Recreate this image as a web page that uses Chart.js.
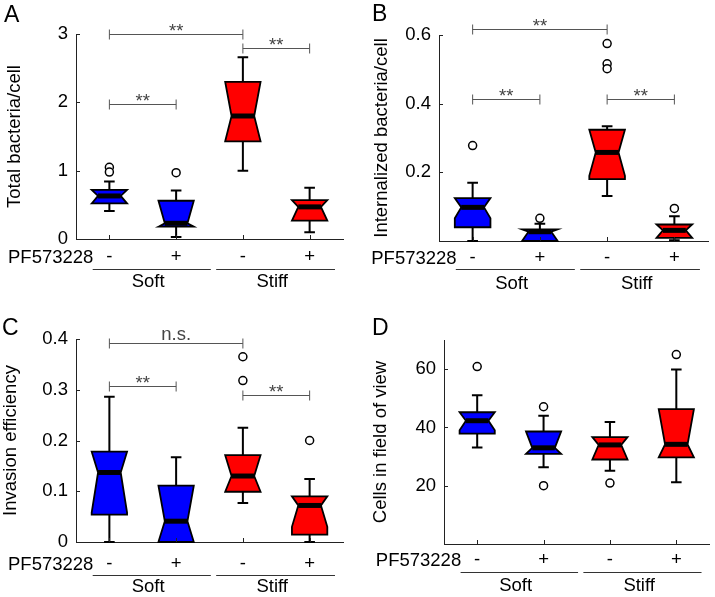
<!DOCTYPE html>
<html>
<head>
<meta charset="utf-8">
<script src="https://cdn.jsdelivr.net/npm/chart.js@4.4.1/dist/chart.umd.min.js"></script>
<style>
  body { margin: 0; background: #fff; }
  #wrap { position: relative; width: 715px; height: 597px; }
  .panel { position: absolute; }
</style>
</head>
<body>
<div id="wrap">
  <div class="panel" style="left:0;top:0"><canvas id="chartA" width="357" height="298"></canvas></div>
  <div class="panel" style="left:357px;top:0"><canvas id="chartB" width="358" height="298"></canvas></div>
  <div class="panel" style="left:0;top:298px"><canvas id="chartC" width="357" height="299"></canvas></div>
  <div class="panel" style="left:357px;top:298px"><canvas id="chartD" width="358" height="299"></canvas></div>
</div>
<script>
// conditions: Soft -, Soft +, Stiff -, Stiff +
var treatment = ['-', '+', '-', '+'];
var groups = ['Soft', 'Stiff'];
var drugName = 'PF573228';

// A - total bacteria per cell
var totalLow = [0.41, 0.03, 1.00, 0.10];
var totalQ1 = [0.52, 0.18, 1.43, 0.27];
var totalMedian = [0.63, 0.23, 1.80, 0.47];
var totalQ3 = [0.72, 0.56, 2.30, 0.57];
var totalHigh = [0.84, 0.71, 2.66, 0.75];
var totalNotchLo = [0.52, 0.18, 1.43, 0.27];
var totalNotchHi = [0.72, 0.56, 2.30, 0.57];
var totalOutliers = [[1.05, 0.98], [0.97], [], []];
var totalTicks = [0, 1, 2, 3];
var totalSig = [[1, 3, 3.0, '**'], [3, 4, 2.8, '**'], [1, 2, 1.97, '**']];

// B - internalized bacteria per cell
var internalLow = [0.0, 0.0, 0.131, 0.002];
var internalQ1 = [0.040, 0.0, 0.18, 0.009];
var internalMedian = [0.098, 0.027, 0.258, 0.031];
var internalQ3 = [0.125, 0.034, 0.324, 0.048];
var internalHigh = [0.17, 0.05, 0.334, 0.072];
var internalNotchLo = [0.066, 0.0, 0.19, 0.009];
var internalNotchHi = [0.125, 0.034, 0.324, 0.048];
var internalOutliers = [[0.278], [0.066], [0.575, 0.516, 0.502], [0.095]];
var internalTicks = [0.2, 0.4, 0.6];
var internalSig = [[1, 3, 0.617, '**'], [1, 2, 0.415, '**'], [3, 4, 0.415, '**']];

// C - invasion efficiency
var invasionLow = [0.0, 0.0, 0.077, 0.0];
var invasionQ1 = [0.054, 0.0, 0.099, 0.0145];
var invasionMedian = [0.137, 0.041, 0.130, 0.072];
var invasionQ3 = [0.178, 0.111, 0.171, 0.090];
var invasionHigh = [0.286, 0.167, 0.225, 0.124];
var invasionNotchLo = [0.058, 0.0, 0.099, 0.03];
var invasionNotchHi = [0.178, 0.111, 0.171, 0.090];
var invasionOutliers = [[], [], [0.365, 0.318], [0.20]];
var invasionTicks = [0, 0.1, 0.2, 0.3, 0.4];
var invasionSig = [[1, 3, 0.393, 'n.s.'], [1, 2, 0.308, '**'], [3, 4, 0.29, '**']];

// D - cells in field of view
var cellsLow = [33.1, 26.3, 25.1, 21.2];
var cellsQ1 = [37.9, 30.9, 29.0, 29.7];
var cellsMedian = [42.3, 33.0, 34.0, 34.2];
var cellsQ3 = [45.2, 38.6, 36.7, 46.3];
var cellsHigh = [51.0, 44.0, 41.9, 59.9];
var cellsNotchLo = [39.0, 30.9, 29.0, 29.7];
var cellsNotchHi = [45.2, 38.6, 36.7, 46.3];
var cellsOutliers = [[60.9], [47.1, 20.0], [20.9], [65.0]];
var cellsTicks = [20, 40, 60];
var cellsSig = [];

var FONT = "'Liberation Sans', Arial, Helvetica, sans-serif";
var FS = 18.5;
var boxColors = ['#0000ff', '#0000ff', '#ff0000', '#ff0000'];
var axisColor = '#222';
Chart.defaults.font.family = FONT;
Chart.defaults.color = '#000';

function makePanel(id, p) {
  var el = document.getElementById(id);
  var W = el.width, H = el.height;
  var g = p.frame; // chart area inside the canvas
  var points = [];
  p.outliers.forEach(function(vals, i) {
    vals.forEach(function(v) { points.push({x: i + 1, y: v}); });
  });

  var boxes = {
    id: 'boxes',
    beforeDatasetsDraw: function(chart) {
      var ctx = chart.ctx, x = chart.scales.x, y = chart.scales.y;
      var unit = x.getPixelForValue(2) - x.getPixelForValue(1);
      var half = unit * 0.265, narrow = half * 0.64, cap = half * 0.3;
      ctx.save();
      for (var i = 0; i < p.median.length; i++) {
        var cx = x.getPixelForValue(i + 1);
        var q1 = y.getPixelForValue(p.q1[i]), q3 = y.getPixelForValue(p.q3[i]);
        var md = y.getPixelForValue(p.median[i]);
        var nLo = y.getPixelForValue(p.notchLo[i]), nHi = y.getPixelForValue(p.notchHi[i]);
        var lo = y.getPixelForValue(p.low[i]), hi = y.getPixelForValue(p.high[i]);

        // whiskers
        ctx.strokeStyle = '#000';
        ctx.lineWidth = 2;
        ctx.beginPath();
        ctx.moveTo(cx, q3); ctx.lineTo(cx, hi);
        ctx.moveTo(cx - cap, hi); ctx.lineTo(cx + cap, hi);
        ctx.moveTo(cx, q1); ctx.lineTo(cx, lo);
        ctx.moveTo(cx - cap, lo); ctx.lineTo(cx + cap, lo);
        ctx.stroke();

        // notched box
        ctx.beginPath();
        ctx.moveTo(cx - half, q1);
        ctx.lineTo(cx - half, nLo);
        ctx.lineTo(cx - narrow, md);
        ctx.lineTo(cx - half, nHi);
        ctx.lineTo(cx - half, q3);
        ctx.lineTo(cx + half, q3);
        ctx.lineTo(cx + half, nHi);
        ctx.lineTo(cx + narrow, md);
        ctx.lineTo(cx + half, nLo);
        ctx.lineTo(cx + half, q1);
        ctx.closePath();
        ctx.fillStyle = boxColors[i];
        ctx.fill();
        ctx.lineWidth = 1.8;
        ctx.lineJoin = 'miter';
        ctx.stroke();

        // median
        ctx.lineWidth = 5;
        ctx.beginPath();
        ctx.moveTo(cx - narrow, md); ctx.lineTo(cx + narrow, md);
        ctx.stroke();
      }
      ctx.restore();
    },
    afterDraw: function(chart) {
      var ctx = chart.ctx, x = chart.scales.x, y = chart.scales.y;
      var area = chart.chartArea;
      ctx.save();

      // inward tick marks
      ctx.strokeStyle = axisColor;
      ctx.lineWidth = 1;
      ctx.beginPath();
      for (var i = 0; i < treatment.length; i++) {
        var tx = Math.round(x.getPixelForValue(i + 1)) + 0.5;
        ctx.moveTo(tx, area.bottom); ctx.lineTo(tx, area.bottom - 4);
      }
      p.ticks.forEach(function(v) {
        var ty = Math.round(y.getPixelForValue(v)) + 0.5;
        ctx.moveTo(area.left, ty); ctx.lineTo(area.left + 4, ty);
      });
      ctx.stroke();

      // significance brackets
      ctx.strokeStyle = '#555';
      ctx.fillStyle = '#444';
      ctx.font = FS + 'px ' + FONT;
      ctx.textAlign = 'center';
      ctx.textBaseline = 'alphabetic';
      p.sig.forEach(function(s) {
        var x1 = x.getPixelForValue(s[0]), x2 = x.getPixelForValue(s[1]);
        var by = Math.round(y.getPixelForValue(s[2])) + 0.5;
        ctx.beginPath();
        ctx.moveTo(x1, by); ctx.lineTo(x2, by);
        ctx.moveTo(x1, by - 5); ctx.lineTo(x1, by + 5);
        ctx.moveTo(x2, by - 5); ctx.lineTo(x2, by + 5);
        ctx.stroke();
        ctx.fillText(s[3], (x1 + x2) / 2, by + (s[3] === '**' ? 2 : -4));
      });

      // treatment row label and group lines
      var rowY = area.bottom + p.rows[0];
      ctx.fillStyle = '#000';
      ctx.textAlign = 'right';
      ctx.textBaseline = 'middle';
      ctx.fillText(drugName, x.getPixelForValue(1) - 16, rowY);

      var lineY = Math.round(area.bottom + p.rows[1]) + 0.5;
      ctx.strokeStyle = '#333';
      ctx.beginPath();
      ctx.moveTo(x.getPixelForValue(1 - 0.25), lineY); ctx.lineTo(x.getPixelForValue(2 + 0.52), lineY);
      ctx.moveTo(x.getPixelForValue(3 - 0.4), lineY); ctx.lineTo(x.getPixelForValue(4 + 0.38), lineY);
      ctx.stroke();

      ctx.textAlign = 'center';
      ctx.fillText(groups[0], x.getPixelForValue(1.58), area.bottom + p.rows[2]);
      ctx.fillText(groups[1], x.getPixelForValue(3.44), area.bottom + p.rows[2]);

      // panel letter
      ctx.font = '23px ' + FONT;
      ctx.textAlign = 'left';
      ctx.textBaseline = 'alphabetic';
      ctx.fillText(p.letter, p.letterPos[0], p.letterPos[1]);
      ctx.restore();
    }
  };

  return new Chart(el, {
    type: 'scatter',
    data: {
      datasets: [{
        data: points,
        pointRadius: 4,
        pointHoverRadius: 4,
        pointBorderWidth: 1.5,
        pointBorderColor: '#000',
        pointBackgroundColor: '#fff',
        clip: false
      }]
    },
    options: {
      responsive: false,
      animation: false,
      events: [],
      layout: { padding: { left: 0, top: g.top, right: W - g.right, bottom: 0 } },
      plugins: { legend: { display: false }, tooltip: { enabled: false } },
      scales: {
        x: {
          type: 'linear',
          min: 0.5,
          max: 4.5,
          afterBuildTicks: function(s) {
            s.ticks = treatment.map(function(t, i) { return {value: i + 1}; });
          },
          afterFit: function(s) { s.height = H - g.bottom; },
          grid: { display: false, drawTicks: false },
          border: { color: axisColor, width: 1 },
          ticks: {
            padding: p.rows[0] - 12,
            autoSkip: false,
            maxRotation: 0,
            color: '#000',
            font: { size: FS },
            callback: function(v, i) { return treatment[i]; }
          }
        },
        y: {
          type: 'linear',
          min: p.range[0],
          max: p.range[1],
          afterBuildTicks: function(s) {
            s.ticks = p.ticks.map(function(v) { return {value: v}; });
          },
          afterFit: function(s) { s.width = g.left; },
          grid: { display: false, drawTicks: false },
          border: { color: axisColor, width: 1 },
          ticks: {
            padding: 8,
            color: '#000',
            font: { size: FS },
            callback: function(v) { return String(v); }
          },
          title: {
            display: true,
            text: p.title,
            color: '#000',
            font: { size: FS },
            padding: { top: p.titlePad, bottom: 0 }
          }
        }
      }
    },
    plugins: [boxes]
  });
}

makePanel('chartA', {
  letter: 'A', letterPos: [4, 22], title: 'Total bacteria/cell', titlePad: 4,
  frame: { left: 76, top: 34, right: 343, bottom: 239 },
  rows: [19, 29.5, 43],
  range: [0, 3], ticks: totalTicks,
  low: totalLow, q1: totalQ1, median: totalMedian, q3: totalQ3, high: totalHigh,
  notchLo: totalNotchLo, notchHi: totalNotchHi, outliers: totalOutliers, sig: totalSig
});

makePanel('chartB', {
  letter: 'B', letterPos: [15, 21], title: 'Internalized bacteria/cell', titlePad: 14,
  frame: { left: 82, top: 35, right: 351, bottom: 241 },
  rows: [17.5, 27.5, 42.5],
  range: [0, 0.6], ticks: internalTicks,
  low: internalLow, q1: internalQ1, median: internalMedian, q3: internalQ3, high: internalHigh,
  notchLo: internalNotchLo, notchHi: internalNotchHi, outliers: internalOutliers, sig: internalSig
});

makePanel('chartC', {
  letter: 'C', letterPos: [2, 37], title: 'Invasion efficiency', titlePad: 0,
  frame: { left: 76, top: 41, right: 343, bottom: 244 },
  rows: [23, 32.5, 45],
  range: [0, 0.4], ticks: invasionTicks,
  low: invasionLow, q1: invasionQ1, median: invasionMedian, q3: invasionQ3, high: invasionHigh,
  notchLo: invasionNotchLo, notchHi: invasionNotchHi, outliers: invasionOutliers, sig: invasionSig
});

makePanel('chartD', {
  letter: 'D', letterPos: [15, 37], title: 'Cells in field of view', titlePad: 13,
  frame: { left: 87, top: 42, right: 355, bottom: 246 },
  rows: [16.5, 27.5, 42],
  range: [0, 70], ticks: cellsTicks,
  low: cellsLow, q1: cellsQ1, median: cellsMedian, q3: cellsQ3, high: cellsHigh,
  notchLo: cellsNotchLo, notchHi: cellsNotchHi, outliers: cellsOutliers, sig: cellsSig
});
</script>
</body>
</html>
